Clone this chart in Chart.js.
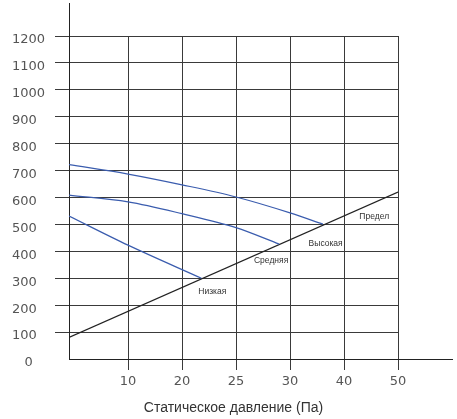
<!DOCTYPE html>
<html>
<head>
<meta charset="utf-8">
<script src="https://cdn.jsdelivr.net/npm/chart.js@4/dist/chart.umd.min.js"></script>
<style>
  body { margin: 0; background: #fff; }
  #wrap { width: 457px; height: 419px; }
</style>
</head>
<body>
<div id="wrap"><canvas id="chart" width="457" height="419"></canvas></div>
<script>
// x positions are slots on the axis; the slot labels are not evenly spaced values
const xLabels = ["10", "20", "25", "30", "40", "50"];
const xStart = -0.093;

const highX = [xStart, 1, 2, 3, 4, 4.61];
const highY = [722, 687, 647, 602, 543, 501];
const midX = [xStart, 1, 2, 3, 3.8];
const midY = [609, 584, 540, 488, 427];
const lowX = [xStart, 1, 2.36];
const lowY = [531, 423, 300];
const limitX = [xStart, 6];
const limitY = [80, 620];

const curveNames = ["Предел", "Высокая", "Средняя", "Низкая"];
const nameX = [5.56, 4.66, 3.65, 2.56];
const nameY = [528, 427, 364, 249];

const xTitle = "Статическое давление (Па)";

function pts(xs, ys) {
  return xs.map((x, i) => ({ x: x, y: ys[i] }));
}

const blue = "#3a5cae";

const extras = {
  id: "extras",
  afterDraw(chart) {
    const { ctx, chartArea, scales } = chart;
    const l = Math.round(chartArea.left) + 0.5;
    const b = Math.round(chartArea.bottom) + 0.5;
    ctx.save();
    ctx.strokeStyle = "#222";
    ctx.lineWidth = 1;
    ctx.beginPath();
    // axis lines run a bit past the grid
    ctx.moveTo(l, chartArea.top);
    ctx.lineTo(l, 3);
    ctx.moveTo(chartArea.right, b);
    ctx.lineTo(chart.width - 4, b);
    ctx.stroke();

    ctx.fillStyle = "#333";
    ctx.font = '8.5px "Liberation Sans", Arial, sans-serif';
    ctx.textAlign = "center";
    ctx.textBaseline = "middle";
    curveNames.forEach((name, i) => {
      ctx.fillText(name, scales.x.getPixelForValue(nameX[i]), scales.y.getPixelForValue(nameY[i]));
    });
    ctx.restore();
  }
};

new Chart(document.getElementById("chart"), {
  type: "line",
  data: {
    datasets: [
      { label: "Высокая", data: pts(highX, highY), borderColor: blue },
      { label: "Средняя", data: pts(midX, midY), borderColor: blue },
      { label: "Низкая", data: pts(lowX, lowY), borderColor: blue },
      { label: "Предел", data: pts(limitX, limitY), borderColor: "#222" }
    ]
  },
  options: {
    responsive: false,
    animation: false,
    events: [],
    elements: {
      point: { radius: 0 },
      line: { borderWidth: 1.2, cubicInterpolationMode: "monotone", fill: false }
    },
    layout: { padding: { left: 12, top: 36, right: 59, bottom: 0 } },
    plugins: { legend: { display: false }, tooltip: { enabled: false } },
    scales: {
      x: {
        type: "linear",
        min: xStart,
        max: 6,
        afterBuildTicks: (s) => { s.ticks = xLabels.map((_, i) => ({ value: i + 1 })); },
        afterFit: (s) => { s.height = 60; },
        grid: { color: "#3a3a3a", tickLength: 11, tickColor: "#3a3a3a" },
        border: { color: "#222" },
        ticks: {
          padding: 4,
          color: "#555",
          font: { family: '"DejaVu Sans", sans-serif', size: 13 },
          callback: (v) => xLabels[Math.round(v) - 1],
          maxRotation: 0
        },
        title: {
          display: true,
          text: xTitle,
          color: "#333",
          font: { family: '"Liberation Sans", Arial, sans-serif', size: 14 },
          padding: { top: 0, bottom: 2 }
        }
      },
      y: {
        min: 0,
        max: 1200,
        afterFit: (s) => { s.width = 57; },
        grid: {
          color: "#3a3a3a",
          tickLength: 14,
          tickColor: (c) => (c.tick && c.tick.value === 0 ? "rgba(0,0,0,0)" : "#3a3a3a")
        },
        border: { color: "#222" },
        ticks: {
          stepSize: 100,
          crossAlign: "far",
          labelOffset: 4,
          color: "#555",
          font: { family: '"DejaVu Sans", sans-serif', size: 13 },
          callback: (v) => (v === 0 ? "   0" : String(v))
        }
      }
    }
  },
  plugins: [extras]
});
</script>
</body>
</html>
